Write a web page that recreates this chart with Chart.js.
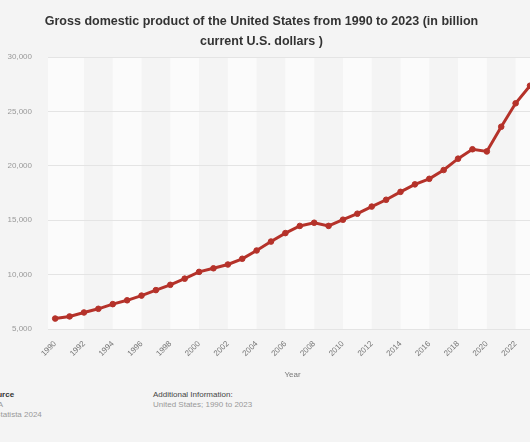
<!DOCTYPE html>
<html>
<head>
<meta charset="utf-8">
<script src="https://cdn.jsdelivr.net/npm/chart.js@4"></script>
<style>
    body { margin: 0; background: #f4f4f4; overflow: hidden; width: 530px; height: 442px; position: relative; font-family: "Liberation Sans", Arial, sans-serif; }
    #chartBox { position: absolute; left: -14px; top: 0; width: 555px; height: 380px; }
    #chartTitle { position: absolute; left: 0; top: 11px; width: 523px; text-align: center; font-size: 12.5px; line-height: 20px; font-weight: bold; color: #333; }
    .foot { position: absolute; font-size: 8px; line-height: 10px; color: #999; }
    .foot b { color: #333; }
</style>
</head>
<body>
<div id="chartBox"><canvas id="gdpChart"></canvas></div>
<div id="chartTitle"></div>
<div class="foot" style="left:-13px; top:390px;"><b>Source</b><br>BEA<br>© Statista 2024</div>
<div class="foot" style="left:153px; top:390px;"><b style="font-weight:normal;color:#444">Additional Information:</b><br>United States; 1990 to 2023</div>
<script>
const years = ["1990", "1991", "1992", "1993", "1994", "1995", "1996", "1997", "1998", "1999",
    "2000", "2001", "2002", "2003", "2004", "2005", "2006", "2007", "2008", "2009",
    "2010", "2011", "2012", "2013", "2014", "2015", "2016", "2017", "2018", "2019",
    "2020", "2021", "2022", "2023"];
// GDP in billion current U.S. dollars
const gdpValues = [5963.1, 6158.1, 6520.3, 6858.6, 7287.2, 7639.7, 8073.1, 8577.6, 9062.8, 9631.2,
    10251.0, 10581.9, 10929.1, 11456.5, 12217.2, 13039.2, 13815.6, 14474.2, 14769.9, 14478.1,
    15049.0, 15599.7, 16254.0, 16880.7, 17608.1, 18295.0, 18804.9, 19612.1, 20656.5, 21521.4,
    21323.0, 23594.0, 25744.1, 27360.9];
const yTicks = [5000, 10000, 15000, 20000, 25000, 30000];

const chartTitle = ["Gross domestic product of the United States from 1990 to 2023 (in billion", "current U.S. dollars )"];
const lineColor = "#b5322a";

// title sits a little left of the plot centre, so it is plain text above the canvas
document.getElementById("chartTitle").innerHTML = chartTitle.join("<br>");

// alternating background bands every two years
const bandPlugin = {
    id: "bands",
    beforeDraw(chart) {
        const ctx = chart.ctx;
        const area = chart.chartArea;
        const x = chart.scales.x;
        ctx.save();
        for (let k = 0; k * 2 < years.length; k++) {
            if (k % 2 !== 0) continue;
            let left = k === 0 ? area.left : x.getPixelForValue(k * 2);
            let right = (k * 2 + 2) < years.length ? x.getPixelForValue(k * 2 + 2) : area.right;
            ctx.fillStyle = "#fbfbfb";
            ctx.fillRect(left, area.top, Math.min(right, area.right) - left, area.bottom - area.top);
        }
        ctx.restore();
    }
};

const ctx = document.getElementById("gdpChart").getContext("2d");
const chartObject = new Chart(ctx, {
    type: "line",
    data: {
        labels: years,
        datasets: [{
            label: "GDP",
            data: gdpValues,
            borderColor: lineColor,
            backgroundColor: lineColor,
            borderWidth: 3,
            pointRadius: 2.8,
            pointBorderWidth: 1,
            pointHoverRadius: 2.8,
            tension: 0,
            fill: false
        }]
    },
    options: {
        responsive: true,
        maintainAspectRatio: false,
        animation: false,
        layout: { padding: { left: 0, right: -7, top: 57, bottom: 0 } },
        plugins: {
            legend: { display: false },
            tooltip: { enabled: false },
            title: { display: false }
        },
        scales: {
            x: {
                offset: true,
                grid: { display: false },
                border: { display: false },
                ticks: {
                    autoSkip: false,
                    maxRotation: 45,
                    minRotation: 45,
                    color: "#777",
                    padding: 2,
                    font: { family: "Liberation Sans", size: 8 },
                    callback: function (value, index) {
                        return index % 2 === 0 ? years[index] : null;
                    }
                },
                title: {
                    display: true,
                    text: "Year",
                    color: "#777",
                    font: { family: "Liberation Sans", size: 8 },
                    padding: { top: 10, bottom: 0 }
                }
            },
            y: {
                min: 5000,
                max: 30000,
                afterBuildTicks: function (axis) {
                    axis.ticks = yTicks.map(v => ({ value: v }));
                },
                afterFit: function (axis) {
                    axis.width = 62;
                },
                grid: { color: "#e4e4e4", drawTicks: false },
                border: { display: false },
                ticks: {
                    color: "#999",
                    padding: 16,
                    font: { family: "Liberation Sans", size: 8 },
                    callback: function (value) {
                        return value.toLocaleString("en-US");
                    }
                },
                title: {
                    display: true,
                    text: "GDP in billion U.S. dollars",
                    color: "#777",
                    font: { family: "Liberation Sans", size: 8 },
                    padding: { top: 6, bottom: 0 }
                }
            }
        }
    },
    plugins: [bandPlugin]
});
</script>
</body>
</html>
